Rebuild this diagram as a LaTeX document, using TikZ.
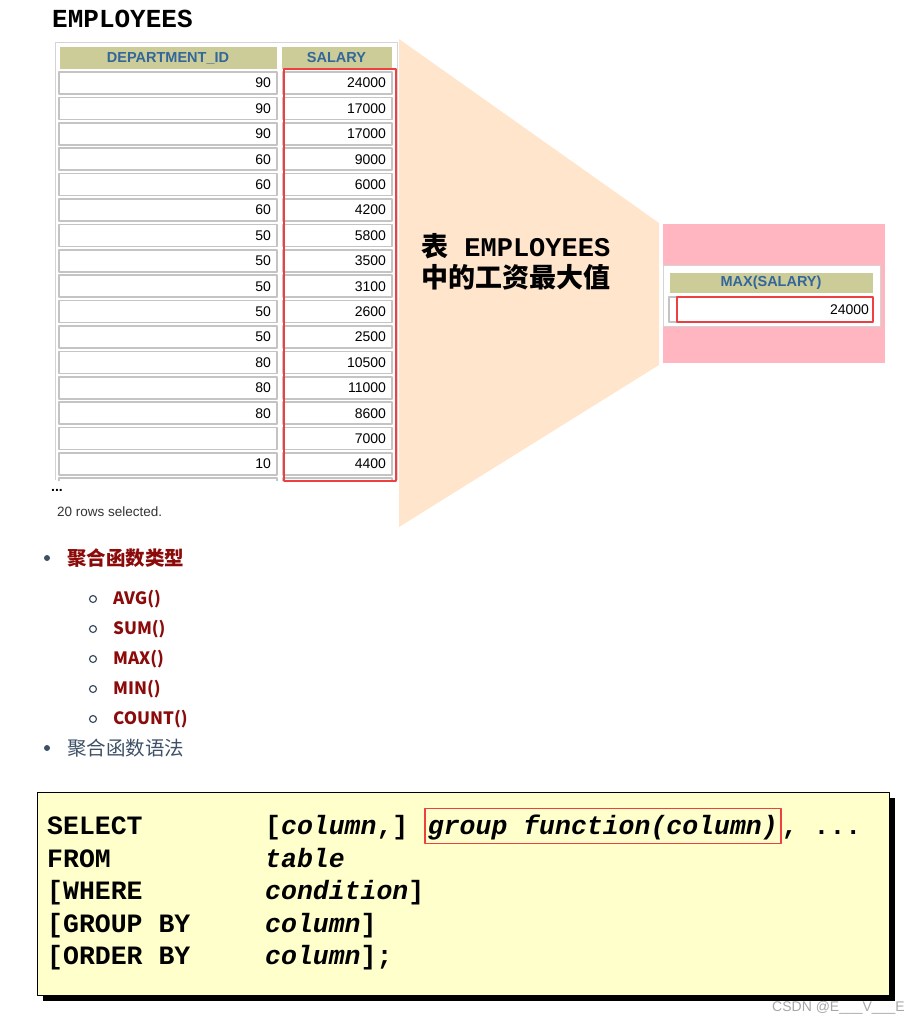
\documentclass[tikz,border=0pt]{standalone}
\usepackage{fontspec}
\setmainfont{Liberation Sans}
\setmonofont{Liberation Mono}
\newfontfamily\cjk{Noto Sans CJK SC}
\definecolor{hdrfill}{HTML}{CCCC99}
\definecolor{hdrtext}{HTML}{336699}
\definecolor{cellgray}{HTML}{C4C4C4}
\definecolor{framegray}{HTML}{D4D4D4}
\definecolor{markred}{HTML}{EE4040}
\definecolor{funnel}{HTML}{FFE5CC}
\definecolor{resultbg}{HTML}{FFB6C1}
\definecolor{codebg}{HTML}{FFFFCC}
\definecolor{darkred}{HTML}{8B0A0A}
\definecolor{slate}{HTML}{3D5066}
\tikzset{
  hdr/.style={fill=hdrfill, draw=white, line width=1, inner sep=0pt, text=hdrtext, font=\fontsize{14.5}{14.5}\selectfont\bfseries},
  cell/.style={fill=white, draw=cellgray, line width=1.5, inner sep=0pt, minimum height=22, font=\fontsize{14}{14}\selectfont},
  code/.style={anchor=base west, inner sep=0pt, font=\fontsize{26.5}{26.5}\selectfont\ttfamily\bfseries},
  item/.style={anchor=west, inner sep=0pt, text=darkred, font=\cjk\fontsize{19.5}{19.5}\selectfont\bfseries},
}
\begin{document}
\begin{tikzpicture}[x=1pt, y=-1pt, line join=round]
  \useasboundingbox (0,0) rectangle (923,1024);
  % funnel and result panel
  \fill[funnel] (399,39) -- (659,223) -- (659,365) -- (399,527) -- cycle;
  \fill[resultbg] (663,224) rectangle (885,363);
  % EMPLOYEES table
  \node[anchor=base west, inner sep=0pt, font=\ttfamily\bfseries\fontsize{26}{26}\selectfont] (title) at (52,28) {EMPLOYEES};
  \draw[framegray] (55,480) -- (55,42) -- (397,42) -- (397,480);
  \node[hdr, minimum width=218, minimum height=23] (hdep) at (168,58) {DEPARTMENT\_ID};
  \node[hdr, minimum width=111, minimum height=23] (hsal) at (336.5,58) {SALARY};
  \foreach \d/\s [count=\i from 0] in {90/24000,90/17000,90/17000,60/9000,60/6000,60/4200,50/5800,50/3500,50/3100,50/2600,50/2500,80/10500,80/11000,80/8600, /7000,10/4400}{
    \node[cell, minimum width=218, text width=206, align=right] (d\i) at (168,83+25.4*\i) {\d};
    \node[cell, minimum width=109, text width=97, align=right] (s\i) at (337.5,83+25.4*\i) {\s};
  }
  \draw[cellgray, line width=1.5] (59,481) -- (59,478) -- (277,478) -- (277,481) (283,481) -- (283,478) -- (392,478) -- (392,481);
  \draw[markred, line width=1.8] (284,69) rectangle (396,481);
  \node[anchor=base west, inner sep=0pt, font=\bfseries\fontsize{14}{14}\selectfont] (more) at (51,491) {...};
  \node[anchor=west, inner sep=0pt, text=black!80, font=\fontsize{13.5}{13.5}\selectfont] (rows) at (57,512) {20 rows selected.};
  % caption
  \node[anchor=west, align=left, inner sep=0pt, font=\fontsize{27}{31}\selectfont] (caption) at (421,262)
    {{\cjk\bfseries 表}{\ttfamily\bfseries\ EMPLOYEES}\\{\cjk\bfseries 中的工资最大值}};
  % MAX result
  \draw[framegray, fill=white] (663,265) rectangle (880,326);
  \node[hdr, minimum width=204, minimum height=21] (hmax) at (771,282.5) {MAX(SALARY)};
  \draw[cellgray, line width=1.2] (669,297) rectangle (677,322);
  \node[cell, draw=markred, line width=1.8, minimum width=196, minimum height=25, text width=188, align=right] (vmax) at (775,309.5) {24000};
  % bullets
  \fill[slate] (47,558) circle (3);
  \node[item] (types) at (67,558) {聚合函数类型};
  \foreach \fn [count=\k from 0] in {AVG(),SUM(),MAX(),MIN(),COUNT()}{
    \draw[slate, line width=1.2] (93,599+30*\k) circle (3.5);
    \node[item, font=\cjk\fontsize{17}{17}\selectfont\bfseries] (f\k) at (113,599+30*\k) {\fn};
  }
  \fill[slate] (47,748) circle (3);
  \node[item, text=slate, font=\cjk\fontsize{19.5}{19.5}\selectfont] (syntax) at (67,748) {聚合函数语法};
  % syntax box
  \fill[black] (43,798) rectangle (895,1001);
  \filldraw[fill=codebg, draw=black, line width=1] (37,792) rectangle (889,995);
  \node[code] (kw0) at (47,834.5) {SELECT};
  \node[code] (arg0) at (265,834.5) {[\textit{column},]};
  \node[code, draw=markred, line width=1.8, inner xsep=3, inner ysep=5, text height=21, text depth=4] (gfun) at (424,834.5) {\textit{group function(column)}};
  \node[code] (etc) at (gfun.base east) {, ...};
  \foreach \kw/\arg [count=\k] in {FROM/{\textit{table}}, {[WHERE}/{\textit{condition}]}, {[GROUP BY}/{\textit{column}]}, {[ORDER BY}/{\textit{column}];}}{
    \node[code] (kw\k) at (47,834.5+32.5*\k) {\kw};
    \node[code] (arg\k) at (265,834.5+32.5*\k) {\arg};
  }
  \node[anchor=west, inner sep=0pt, text=black!35, font=\fontsize{14}{14}\selectfont] (mark) at (772,1008) {CSDN @E\_\_\_V\_\_\_E};
\end{tikzpicture}
\end{document}
